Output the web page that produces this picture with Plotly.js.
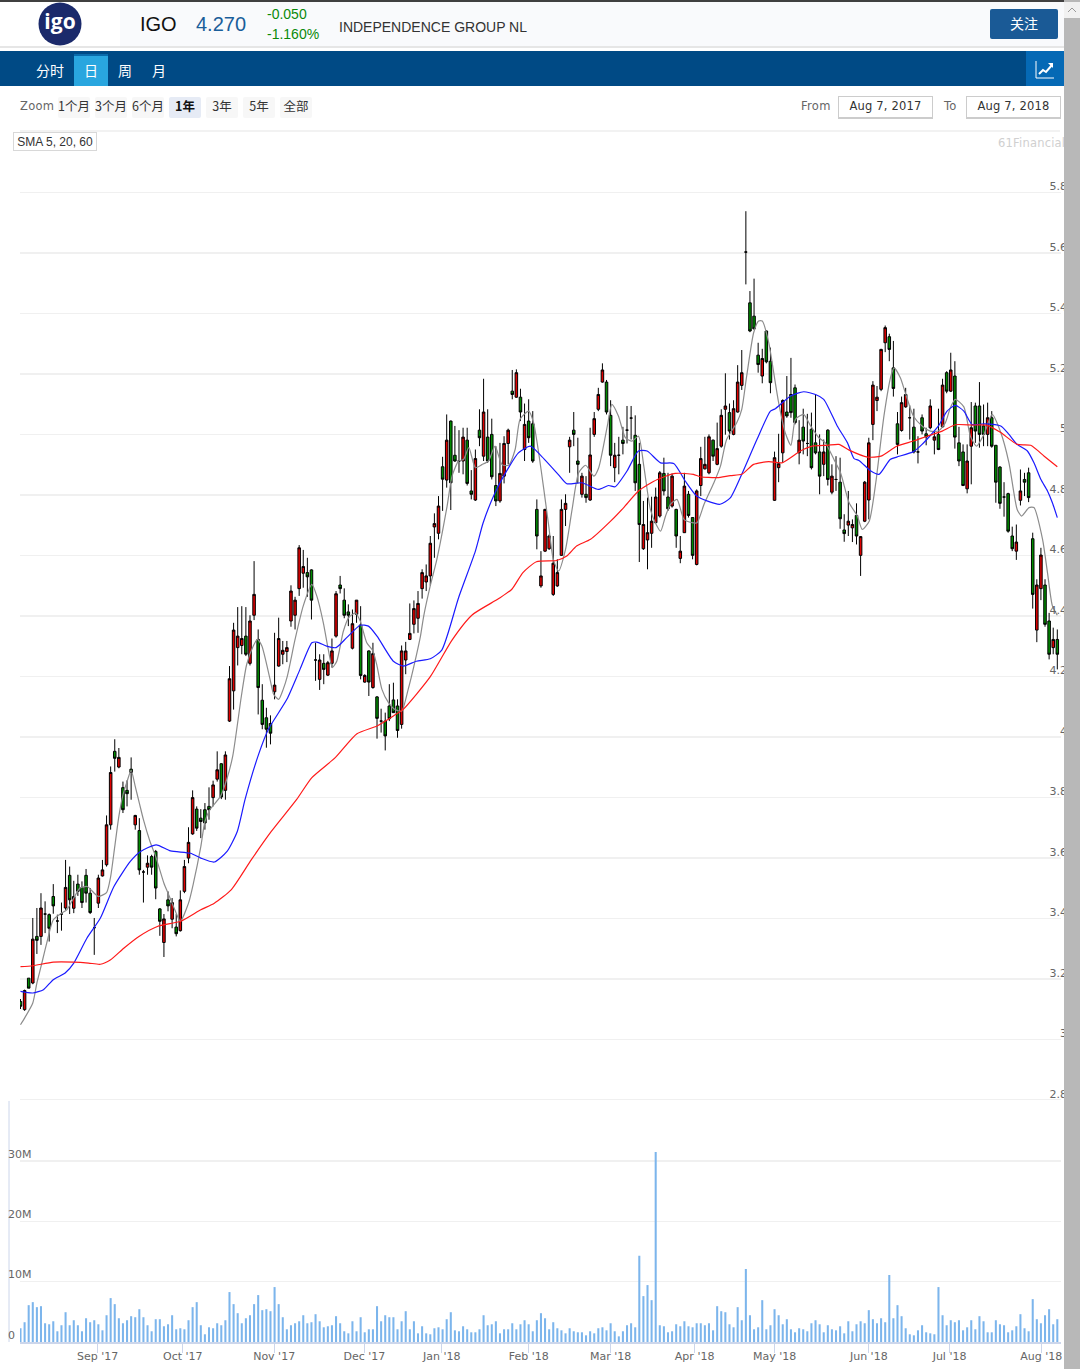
<!DOCTYPE html>
<html>
<head>
<meta charset="utf-8">
<script src="https://cdn.plot.ly/plotly-3.0.1.min.js"></script>
<style>
html, body { margin: 0; padding: 0; background: #fff; overflow: hidden; }
#page { position: relative; width: 1080px; height: 1369px; overflow: hidden; font-family: "Liberation Sans", Arial, sans-serif; }
#chart { position: absolute; left: 0; top: 0; width: 1080px; height: 1369px; }
.box { position: absolute; }
.t { position: absolute; white-space: nowrap; line-height: 1; }
.cjk { font-family: "Noto Sans CJK SC", sans-serif; }
.zoom { position: absolute; top: 97px; height: 21px; width: 32px; background: #f7f7f7; color: #333; font: 12.5px/17px "Noto Sans CJK SC", sans-serif; text-align: center; border-radius: 2px; }
.date { position: absolute; top: 96px; height: 20px; width: 93px; border: 1px solid #ccc; border-bottom-width: 2px; color: #333; font: 11.5px/18px "DejaVu Sans", sans-serif; text-align: center; letter-spacing: 0.2px; }
.lab { position: absolute; top: 99px; color: #666; font: 11.5px/14px "DejaVu Sans", sans-serif; letter-spacing: 0.3px; }
</style>
</head>
<body>
<div id="page">
<div id="chart"></div>

<div class="box" style="left:0;top:0;width:1064px;height:2px;background:#404040"></div>
<div class="box" style="left:120px;top:2px;width:944px;height:44px;background:#f9fafc"></div>
<div class="box" style="left:0;top:46px;width:1064px;height:2px;background:#e6e6e6"></div>
<svg class="box" style="left:38px;top:2px" width="44" height="44">
  <circle cx="22" cy="22" r="21.5" fill="#1b2a6b"/>
  <text x="22" y="27" fill="#fff" font-family="Open Sans" font-weight="700" font-size="21" text-anchor="middle">igo</text>
</svg>
<div class="t" style="left:140px;top:14px;font-size:20px;color:#111">IGO</div>
<div class="t" style="left:196px;top:14px;font-size:20px;color:#1a5e9a">4.270</div>
<div class="t" style="left:267px;top:7px;font-size:14px;color:#0a8a0a">-0.050</div>
<div class="t" style="left:267px;top:27px;font-size:14px;color:#0a8a0a">-1.160%</div>
<div class="t" style="left:339px;top:20px;font-size:14px;color:#333">INDEPENDENCE GROUP NL</div>
<div class="box cjk" style="left:990px;top:9px;width:68px;height:30px;background:#1a5a96;border-radius:2px;color:#fff;font-size:14px;line-height:28px;text-align:center">关注</div>

<div class="box" style="left:0;top:51px;width:1064px;height:35px;background:#004a85"></div>
<div class="box" style="left:74px;top:54px;width:34px;height:2px;background:#0a6bab"></div>
<div class="box" style="left:74px;top:56px;width:34px;height:30px;background:#29a6df"></div>
<div class="t cjk" style="left:36px;top:63px;font-size:14px;color:#fff">分时</div>
<div class="t cjk" style="left:84px;top:63px;font-size:14px;color:#fff">日</div>
<div class="t cjk" style="left:118px;top:63px;font-size:14px;color:#fff">周</div>
<div class="t cjk" style="left:152px;top:63px;font-size:14px;color:#fff">月</div>
<div class="box" style="left:1026px;top:51px;width:38px;height:35px;background:#0569b5"></div>
<svg class="box" style="left:1035px;top:60px" width="20" height="20">
  <path d="M1 1V18H19" fill="none" stroke="#fff" stroke-width="1"/>
  <path d="M4 14L8 10L11 12L17 5" fill="none" stroke="#fff" stroke-width="2"/>
  <path d="M13 3H18V8Z" fill="#fff"/>
</svg>

<div class="lab" style="left:20px">Zoom</div>
<div class="zoom" style="left:58px">1个月</div>
<div class="zoom" style="left:95px">3个月</div>
<div class="zoom" style="left:132px">6个月</div>
<div class="zoom" style="left:169px;background:#e6ebf5;font-weight:700;color:#111">1年</div>
<div class="zoom" style="left:206px">3年</div>
<div class="zoom" style="left:243px">5年</div>
<div class="zoom" style="left:280px">全部</div>
<div class="lab" style="left:801px">From</div>
<div class="date" style="left:838px">Aug 7, 2017</div>
<div class="lab" style="left:944px">To</div>
<div class="date" style="left:966px">Aug 7, 2018</div>

<div class="box" style="left:20px;top:130px;width:1040px;height:2px;background:#f2f2f2"></div>
<div class="box" style="left:13px;top:132px;width:82px;height:17px;border:1px solid #d8d8d8;background:#fff;color:#333;font-size:12px;line-height:18px;text-align:center">SMA 5, 20, 60</div>
<div class="t" style="left:998px;top:136px;font:11.5px 'DejaVu Sans',sans-serif;color:#d0d0d0;letter-spacing:0.2px">61Financial</div>

<div class="box" style="left:1064px;top:0;width:16px;height:1369px;background:#b8b8b8"></div>
<div class="box" style="left:1064px;top:2px;width:16px;height:16px;background:#f1f1f1"></div>
<svg class="box" style="left:1064px;top:2px" width="16" height="16"><path d="M4 10L8 6L12 10" fill="none" stroke="#999" stroke-width="1"/></svg>
</div>

<script>
const opens = [
3.125,3.098,3.202,3.186,3.34,3.34,3.414,3.412,3.472,3.391,
3.414,3.434,3.542,3.433,3.513,3.502,3.542,3.483,3.369,3.45,
3.54,3.577,3.709,3.952,3.90,3.832,3.823,3.893,3.709,3.69,
3.553,3.569,3.604,3.621,3.431,3.32,3.461,3.397,3.371,3.359,
3.489,3.599,3.679,3.761,3.731,3.759,3.77,3.799,3.86,3.911,
3.823,4.052,4.152,4.295,4.302,4.333,4.243,4.402,4.322,4.121,
4.063,4.044,4.149,4.234,4.273,4.282,4.383,4.402,4.49,4.541,
4.543,4.552,4.254,4.19,4.243,4.204,4.243,4.333,4.502,4.452,
4.413,4.293,4.405,4.37,4.181,4.284,4.163,4.132,4.052,4.052,
4.102,4.122,4.102,4.041,4.254,4.322,4.372,4.392,4.49,4.512,
4.532,4.694,4.673,4.893,4.849,5.044,4.931,4.912,4.912,4.981,
4.813,4.783,5.014,4.928,4.991,5.0,4.831,4.78,4.862,4.97,
5.143,5.123,5.123,4.95,5.044,5.035,4.752,4.499,4.614,4.622,
4.471,4.499,4.6,4.752,4.959,5.014,4.912,4.802,4.802,4.783,
5.0,5.083,5.173,5.173,5.063,4.89,4.931,4.981,5.014,5.054,
4.997,4.901,4.622,4.651,4.673,4.708,4.73,4.871,4.793,4.763,
4.752,4.59,4.675,4.802,4.725,4.57,4.831,4.886,4.873,4.981,
4.901,4.961,5.083,5.072,5.0,5.074,5.162,5.603,5.435,5.391,
5.262,5.193,5.342,5.242,4.782,4.89,4.939,5.074,5.132,5.154,
4.939,5.024,4.97,5.017,4.972,4.942,4.901,5.014,4.809,4.851,
4.842,4.684,4.70,4.691,4.732,4.6,4.713,4.783,5.033,5.112,
5.149,5.303,5.323,5.22,5.035,5.013,5.091,5.055,5.024,4.942,
5.055,5.002,5.022,4.981,5.0,5.025,5.204,5.143,5.193,4.972,
4.942,4.82,4.961,5.094,5.094,5.028,5.0,5.055,4.964,4.892,
4.793,4.804,4.664,4.614,4.782,4.851,4.873,4.655,4.353,4.49,
4.502,4.383,4.295,4.322];
const closes = [
3.109,3.161,3.169,3.331,3.327,3.434,3.414,3.367,3.441,3.391,
3.414,3.502,3.461,3.472,3.489,3.452,3.483,3.419,3.369,3.533,
3.56,3.709,3.882,3.929,3.932,3.759,3.812,3.882,3.74,3.56,
3.553,3.582,3.569,3.50,3.39,3.398,3.441,3.452,3.349,3.461,
3.571,3.651,3.799,3.698,3.72,3.715,3.759,3.841,3.891,3.801,
3.94,4.192,4.353,4.333,4.325,4.273,4.383,4.471,4.163,4.041,
4.025,4.012,4.171,4.325,4.286,4.295,4.482,4.452,4.625,4.563,
4.529,4.452,4.254,4.254,4.223,4.245,4.284,4.473,4.49,4.402,
4.402,4.374,4.452,4.203,4.203,4.181,4.275,4.061,4.052,4.003,
4.06,4.08,4.021,4.284,4.284,4.342,4.424,4.441,4.543,4.532,
4.64,4.705,4.763,4.852,4.981,4.84,4.912,4.912,4.991,4.838,
4.802,4.92,4.989,5.074,4.912,4.86,4.78,4.871,4.97,5.014,
5.132,5.204,5.074,5.033,4.989,4.912,4.664,4.532,4.752,4.664,
4.574,4.543,4.752,4.772,4.981,5.0,4.901,4.862,4.791,4.932,
5.052,5.132,5.213,5.074,4.931,4.931,4.931,4.97,5.014,5.054,
4.84,4.702,4.702,4.675,4.713,4.793,4.873,4.813,4.754,4.862,
4.664,4.614,4.829,4.732,4.60,4.813,4.92,4.901,4.992,4.928,
4.953,5.063,5.094,5.011,5.085,5.173,5.204,5.603,5.342,5.349,
5.231,5.251,5.24,5.171,4.923,4.903,5.112,5.061,5.072,5.039,
4.981,4.978,4.97,4.89,4.939,4.862,4.942,4.851,4.862,4.851,
4.721,4.672,4.713,4.702,4.664,4.662,4.842,4.972,5.163,5.123,
5.281,5.353,5.281,5.152,4.967,5.105,5.132,5.055,4.942,4.942,
5.011,4.992,5.094,4.992,4.95,5.163,5.143,5.213,4.991,4.912,
4.831,4.912,5.022,5.011,5.0,5.0,5.055,4.961,4.842,4.772,
4.793,4.68,4.622,4.644,4.813,4.842,4.791,4.471,4.502,4.601,
4.372,4.273,4.322,4.273];
const highs = [
3.133,3.164,3.202,3.401,3.434,3.483,3.456,3.416,3.513,3.412,
3.452,3.593,3.571,3.524,3.544,3.522,3.563,3.50,3.401,3.544,
3.593,3.74,3.902,3.992,3.963,3.852,3.856,3.932,3.742,3.731,
3.56,3.608,3.61,3.626,3.434,3.414,3.489,3.467,3.414,3.492,
3.593,3.701,3.823,3.77,3.761,3.781,3.833,3.855,3.952,3.913,
3.952,4.234,4.377,4.429,4.432,4.429,4.402,4.581,4.355,4.174,
4.096,4.071,4.344,4.394,4.317,4.317,4.501,4.463,4.634,4.618,
4.592,4.554,4.311,4.273,4.273,4.251,4.325,4.482,4.532,4.491,
4.438,4.421,4.452,4.432,4.207,4.286,4.311,4.135,4.093,4.08,
4.174,4.179,4.124,4.302,4.314,4.441,4.451,4.482,4.554,4.57,
4.664,4.739,4.796,4.926,5.066,5.046,5.028,5.014,5.022,5.022,
4.882,4.95,5.083,5.184,5.083,5.052,4.961,4.972,4.994,5.019,
5.213,5.215,5.151,5.102,5.116,5.077,4.785,4.614,4.754,4.669,
4.664,4.587,4.785,4.802,4.992,5.074,4.989,4.873,4.862,5.022,
5.074,5.154,5.235,5.18,5.113,4.972,4.992,5.025,5.094,5.094,
5.063,4.972,4.78,4.791,4.794,4.824,4.879,4.923,4.873,4.871,
4.754,4.664,4.873,4.813,4.725,4.818,4.959,4.992,5.0,4.983,
5.039,5.083,5.202,5.102,5.113,5.229,5.279,5.738,5.474,5.515,
5.303,5.283,5.344,5.287,4.943,5.002,5.116,5.193,5.253,5.165,
5.047,5.085,5.068,5.072,5.132,5.0,4.983,5.017,4.901,4.928,
4.923,4.736,4.813,4.719,4.772,4.664,4.846,4.989,5.176,5.16,
5.283,5.36,5.333,5.309,5.074,5.125,5.154,5.096,5.085,4.994,
5.066,5.022,5.116,5.011,5.085,5.184,5.209,5.27,5.242,5.025,
4.967,4.967,5.107,5.105,5.173,5.099,5.105,5.077,4.964,4.895,
4.842,4.807,4.695,4.702,4.884,4.873,4.89,4.675,4.521,4.625,
4.521,4.41,4.361,4.355];
const lows = [
3.10,3.094,3.169,3.182,3.282,3.312,3.351,3.323,3.415,3.351,
3.359,3.428,3.414,3.417,3.474,3.434,3.452,3.414,3.279,3.434,
3.538,3.571,3.693,3.885,3.896,3.748,3.77,3.792,3.693,3.544,
3.452,3.544,3.544,3.463,3.342,3.272,3.423,3.367,3.34,3.356,
3.483,3.582,3.676,3.689,3.665,3.693,3.726,3.77,3.852,3.794,
3.792,4.049,4.09,4.236,4.273,4.267,4.236,4.386,4.074,4.025,
3.964,3.975,4.124,4.232,4.24,4.247,4.364,4.355,4.466,4.493,
4.463,4.388,4.185,4.155,4.174,4.201,4.229,4.328,4.474,4.392,
4.366,4.289,4.377,4.19,4.179,4.135,4.159,3.994,4.014,3.955,
4.052,4.08,3.997,4.027,4.207,4.32,4.342,4.344,4.457,4.482,
4.50,4.592,4.653,4.747,4.824,4.75,4.909,4.873,4.868,4.831,
4.785,4.78,4.961,4.912,4.906,4.851,4.763,4.774,4.838,4.901,
5.116,5.121,5.044,4.912,4.972,4.906,4.62,4.493,4.611,4.618,
4.466,4.496,4.598,4.697,4.873,4.961,4.838,4.791,4.774,4.78,
4.992,5.077,5.171,5.066,4.895,4.842,4.868,4.934,4.97,4.983,
4.813,4.578,4.618,4.554,4.625,4.708,4.725,4.798,4.747,4.758,
4.625,4.574,4.675,4.725,4.587,4.567,4.796,4.884,4.868,4.912,
4.898,4.956,4.999,4.983,4.997,5.072,5.147,5.496,5.338,5.347,
5.204,5.169,5.235,5.136,4.78,4.842,4.906,5.055,5.055,5.033,
4.901,4.934,4.928,4.884,4.934,4.802,4.862,4.831,4.802,4.813,
4.688,4.645,4.664,4.644,4.636,4.532,4.71,4.719,4.981,5.077,
5.143,5.272,5.242,5.125,4.934,5.009,5.088,4.983,4.937,4.904,
5.0,4.964,5.017,4.934,4.948,5.022,5.136,5.14,4.953,4.895,
4.829,4.805,4.835,4.972,4.956,4.961,4.961,4.956,4.774,4.754,
4.728,4.675,4.614,4.585,4.765,4.796,4.776,4.424,4.313,4.452,
4.364,4.256,4.273,4.223];
const volumes = [
2.28,3.28,6.11,6.61,5.78,5.94,3.11,2.94,3.44,1.78,
2.78,4.94,2.78,3.61,2.78,1.78,3.94,3.28,3.61,2.94,
1.94,4.44,7.28,6.28,3.94,3.11,3.61,4.28,4.11,5.44,
4.11,2.78,1.78,3.78,3.78,2.61,2.94,4.44,2.11,2.28,
2.11,3.61,5.78,6.61,2.78,1.28,2.44,2.28,3.11,2.78,
3.61,8.28,6.28,4.78,3.11,3.94,4.44,6.28,7.78,5.28,
5.44,5.11,9.11,6.28,4.11,2.11,2.78,3.11,3.44,4.44,
3.11,3.28,4.61,3.44,2.44,2.61,2.78,4.28,3.11,1.78,
1.44,3.44,1.78,4.11,1.61,2.11,2.11,5.94,3.44,4.44,
4.11,4.11,2.11,3.44,5.11,2.11,3.44,1.44,2.61,1.44,
1.28,2.28,2.44,2.11,3.78,4.94,1.94,1.78,2.61,2.11,
1.61,1.61,2.11,4.44,2.78,2.94,3.44,1.44,2.11,2.11,
3.11,2.11,2.94,3.61,2.94,1.78,3.61,4.78,3.94,2.11,
3.28,2.28,1.94,1.44,2.28,1.78,1.61,1.61,1.11,1.78,
1.44,2.28,2.44,1.94,3.11,1.78,0.94,1.78,2.78,3.11,
2.44,14.3,7.61,9.44,6.94,31.5,2.78,2.61,1.61,1.78,
2.94,2.61,3.44,2.61,2.44,3.11,3.11,2.78,3.11,1.94,
5.94,5.11,4.94,2.94,2.44,5.78,3.61,12.11,4.44,2.11,
2.44,6.94,2.11,2.78,5.44,4.44,2.94,3.78,2.11,1.61,
2.28,2.11,1.78,3.11,3.61,2.94,1.61,2.78,2.11,1.94,
2.61,1.44,3.44,1.78,2.94,3.44,3.11,5.28,3.78,3.11,
3.94,3.28,11.11,3.94,6.11,4.28,2.28,1.28,1.11,1.94,
2.78,1.61,1.44,1.28,9.11,4.44,2.78,3.61,3.28,3.61,
1.94,2.44,3.61,2.11,4.28,3.44,1.61,1.61,3.61,2.94,
2.78,1.61,1.94,2.61,4.61,2.28,1.78,7.11,3.78,3.11,
4.44,5.44,2.94,3.78];

const sma5X = [0,1,3,4,5,6.4,8,10,11.3,13,14.5,16.3,18,19,21,22,23,24,25,26,27,28,29,30,31.6,33,35,36,38,39,41,42.2,44,45,46.2,48.8,50.3,51.8,53.9,55.2,56.8,57.8,58.9,60.9,61.8,63,64.1,65.1,67,69,71.1,72.3,73.9,75.1,76.1,77.2,78.8,80.1,81.7,82.9,84.5,86,87,88.2,89.8,91.4,93,94.6,96,97.6,98.4,100,101.6,104.1,105.3,106.9,108.1,109.4,111,112.6,114.2,115.8,117.5,119.1,120.7,121.9,124,125.2,126.5,127.7,128.9,130,131.3,133,134.6,136.2,137.9,139.9,141.1,143.2,144.3,145.9,147.6,149.2,150.8,152.1,153.7,154.9,156.2,157.4,158.6,160.2,161.9,163.9,165.1,166.8,169.2,170.8,172.3,174.8,176,177.2,178.9,180.1,181,182.6,183.8,185,186.6,188,189.1,191.1,192.8,194.8,196.4,198.5,200.1,202.2,204.2,205.4,207.1,208.7,210.7,212.4,213.2,214.7,215.9,217.9,220,222,224,225.7,226.9,228.1,230.2,231.8,233.3,235.1,237.1,239.2,241.2,243.2,244.3,246.1,247.3,249.4,250.6,251.8,253];
const sma5 = [3.048,3.07,3.12,3.186,3.24,3.318,3.395,3.417,3.428,3.467,3.50,3.505,3.483,3.472,3.485,3.538,3.637,3.737,3.808,3.852,3.889,3.836,3.781,3.726,3.654,3.604,3.516,3.483,3.417,3.39,3.45,3.516,3.637,3.72,3.759,3.803,3.858,3.937,4.135,4.24,4.30,4.322,4.30,4.19,4.14,4.124,4.157,4.20,4.322,4.433,4.504,4.466,4.377,4.289,4.229,4.251,4.35,4.394,4.41,4.383,4.311,4.284,4.234,4.157,4.113,4.09,4.085,4.157,4.234,4.333,4.40,4.50,4.587,4.763,4.862,4.912,4.917,4.956,4.89,4.90,4.912,4.961,4.90,4.898,4.95,5.05,5.077,5.039,4.934,4.818,4.697,4.587,4.548,4.62,4.752,4.873,4.898,4.862,4.89,5.028,5.099,5.061,4.989,4.978,4.994,4.895,4.752,4.708,4.68,4.73,4.769,4.785,4.719,4.708,4.708,4.769,4.84,4.895,4.983,5.039,5.083,5.193,5.336,5.375,5.375,5.303,5.204,5.105,5.006,4.964,5.05,5.066,5.028,4.989,4.972,4.917,4.873,4.774,4.73,4.686,4.713,4.84,5.061,5.193,5.22,5.187,5.138,5.06,5.028,5.011,5.011,5.039,5.088,5.116,5.091,4.994,4.961,5.0,5.066,5.006,4.906,4.752,4.73,4.758,4.758,4.653,4.543,4.433,4.402];

const sma20X = [0,3,5.6,8,10.9,13,16.2,19.5,22.8,26.8,29.3,33.1,36.6,41.5,44,47.3,50.4,52.9,54.8,58.1,60.5,65,68.2,71.1,72.3,74.7,77,79.6,82.9,84.9,87,91,93.4,96.6,100,102.8,106.9,111,112.9,115.8,119.1,121.5,124.4,126.7,131.2,133.3,137,141,143.5,145.1,148,150.8,152.9,156.2,159.4,162.2,165,167.5,170.7,173.2,176,179.7,183,184.2,187.9,191.1,194,196,199.3,201.8,203.4,204.6,207.5,209.5,212.2,213.8,217.9,220,224,226.1,228.1,230.2,232.2,235.1,239.2,241.2,243.2,245.7,247.3,249,250.6,251.8,253];
const sma20 = [3.158,3.153,3.164,3.197,3.219,3.252,3.334,3.401,3.505,3.588,3.621,3.643,3.623,3.615,3.599,3.586,3.621,3.687,3.793,3.942,4.025,4.124,4.223,4.311,4.313,4.30,4.295,4.328,4.369,4.366,4.333,4.25,4.234,4.25,4.258,4.287,4.46,4.614,4.708,4.807,4.89,4.939,4.961,4.934,4.868,4.837,4.84,4.818,4.831,4.827,4.879,4.945,4.945,4.906,4.904,4.846,4.796,4.78,4.769,4.79,4.868,4.983,5.077,5.085,5.127,5.141,5.132,5.116,5.028,4.972,4.92,4.914,4.879,4.868,4.917,4.925,4.943,4.967,5.028,5.077,5.096,5.077,5.033,5.035,5.028,5.0,4.967,4.945,4.906,4.851,4.813,4.774,4.725];

const sma60X = [0,3,8,13,16.6,19.5,22,25.2,28.9,33.4,39.1,44,47.3,51.4,56.3,61.2,67.4,71.1,76.8,82.1,87,91,93.4,100,105.3,110.2,116.7,119.9,122.6,125.9,130.8,133.3,135.7,139.1,144,147.2,150.8,155.4,159.8,164.2,165.8,170,173.2,176,178.9,182.6,185.8,190.3,193.2,196.9,199.7,202.2,206.7,210,213.8,217.9,221.2,224.9,228.1,232.2,235.9,239.2,243.2,246.5,249.8,253];
const sma60 = [3.24,3.243,3.255,3.255,3.252,3.248,3.263,3.301,3.34,3.373,3.39,3.428,3.45,3.494,3.593,3.687,3.793,3.865,3.931,4.01,4.036,4.069,4.091,4.199,4.32,4.403,4.457,4.488,4.543,4.579,4.583,4.598,4.631,4.653,4.713,4.758,4.813,4.851,4.871,4.868,4.86,4.857,4.864,4.868,4.901,4.91,4.906,4.945,4.961,4.964,4.967,4.948,4.925,4.928,4.961,4.978,4.994,5.011,5.032,5.031,5.03,5.006,4.967,4.964,4.928,4.893];

const priceTicks = [2.8,3,3.2,3.4,3.6,3.8,4,4.2,4.4,4.6,4.8,5,5.2,5.4,5.6,5.8];
const volTicks = [0,10,20,30];
const volLabels = ["0","10M","20M","30M"];
const monthPos = [18.8,39.6,61.9,83.9,102.8,124,144,164.5,184,207,226.7,249.1];
const monthLabels = ["Sep '17","Oct '17","Nov '17","Dec '17","Jan '18","Feb '18","Mar '18","Apr '18","May '18","Jun '18","Jul '18","Aug '18"];

const idx = closes.map((c, i) => i);
const tickFont = {family: "DejaVu Sans", size: 11, color: "#666"};

function smaLine(x, y, color) {
	return {x: x, y: y, type: "scatter", mode: "lines", xaxis: "x", yaxis: "y",
		line: {color: color, width: 1.2, shape: "spline", smoothing: 0.6}, hoverinfo: "skip", showlegend: false};
}

const data = [
	{
		x: idx, open: opens, high: highs, low: lows, close: closes,
		type: "candlestick", xaxis: "x", yaxis: "y", showlegend: false, hoverinfo: "skip",
		whiskerwidth: 0,
		increasing: {line: {color: "#000", width: 1}, fillcolor: "#e00000"},
		decreasing: {line: {color: "#000", width: 1}, fillcolor: "#008a00"}
	},
	smaLine(sma5X, sma5, "#8c8c8c"),
	smaLine(sma20X, sma20, "#1a1aff"),
	smaLine(sma60X, sma60, "#ff1a1a"),
	{
		x: idx, y: volumes, type: "bar", xaxis: "x", yaxis: "y2", showlegend: false, hoverinfo: "skip",
		marker: {color: "#7cb5ec", line: {width: 0}}, width: 0.5
	}
];

// the volume labels sit left aligned above their grid lines, so they are annotations
const annotations = volTicks.map((v, i) => ({
	xref: "paper", yref: "y2", x: -14 / 1041, y: v, xanchor: "left", yanchor: "middle",
	yshift: 7, text: volLabels[i], showarrow: false, font: tickFont
}));

const layout = {
	width: 1080, height: 1369,
	margin: {l: 20, r: 19, t: 0, b: 0, pad: 0},
	paper_bgcolor: "rgba(0,0,0,0)", plot_bgcolor: "rgba(0,0,0,0)",
	showlegend: false, dragmode: false, boxgap: 0.12,
	xaxis: {
		anchor: "y2", range: [-0.12, 253.9], rangeslider: {visible: false},
		tickmode: "array", tickvals: monthPos, ticktext: monthLabels,
		tickfont: tickFont, ticks: "outside", ticklen: 9, tickcolor: "#ccd6eb", tickwidth: 1,
		ticklabelstandoff: -6,
		showgrid: false, zeroline: false, showline: true, linecolor: "#ccd6eb", linewidth: 2
	},
	yaxis: {
		domain: [0.19006, 0.9036], range: [2.77, 6.0], side: "right", anchor: "x",
		tickmode: "array", tickvals: priceTicks, ticktext: priceTicks.map(String),
		tickfont: tickFont, ticklabelposition: "inside", ticklabelshift: -6, ticklabelstandoff: -9,
		showgrid: true, gridcolor: "#f0f0f0", gridwidth: 1.5, zeroline: false, showline: false, ticks: ""
	},
	yaxis2: {
		domain: [0.01972, 0.1959], range: [0, 40], anchor: "x",
		tickmode: "array", tickvals: volTicks, showticklabels: false,
		showgrid: true, gridcolor: "#f0f0f0", gridwidth: 1.5, zeroline: false, showline: false, ticks: ""
	},
	shapes: [
		{type: "line", xref: "paper", yref: "y2", x0: -11 / 1041, x1: -11 / 1041, y0: 0, y1: 40, line: {color: "#ccd6eb", width: 1}}
	],
	annotations: annotations
};

Plotly.newPlot("chart", data, layout, {displayModeBar: false, staticPlot: true});
</script>
</body>
</html>
